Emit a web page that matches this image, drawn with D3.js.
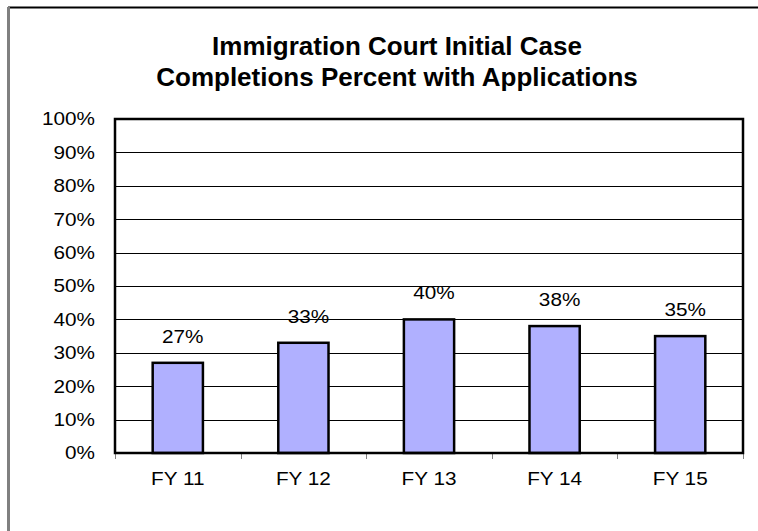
<!DOCTYPE html>
<html><head><meta charset="utf-8">
<script src="https://cdn.jsdelivr.net/npm/d3@7/dist/d3.min.js"></script>
<style>body{margin:0;background:#fff}svg{display:block}</style>
</head><body>
<script>
const categories = ["FY 11","FY 12","FY 13","FY 14","FY 15"];
const values = [0.27, 0.33, 0.40, 0.38, 0.35];
const yTicks = [0,0.1,0.2,0.3,0.4,0.5,0.6,0.7,0.8,0.9,1.0];
const titleLines = ["Immigration Court Initial Case","Completions Percent with Applications"];

const W=758,H=531;
const m={left:115,right:15,top:119,bottom:78};
const svg=d3.select("body").append("svg").attr("width",W).attr("height",H);
const font="Liberation Sans, Arial, sans-serif";
const stretch=1.12;
function widen(sel){
  sel.each(function(){
    const len=this.getComputedTextLength();
    d3.select(this).attr("textLength",len*stretch).attr("lengthAdjust","spacingAndGlyphs");
  });
}

// outer chart frame
svg.append("line").attr("x1",8).attr("x2",W).attr("y1",7.5).attr("y2",7.5).attr("stroke","#000").attr("stroke-width",2);
svg.append("line").attr("x1",8.5).attr("x2",8.5).attr("y1",7).attr("y2",H).attr("stroke","#808080").attr("stroke-width",3);

const x=d3.scaleBand().domain(categories).range([m.left,W-m.right]).paddingInner(0.6).paddingOuter(0.3);
const xb=d3.scaleBand().domain(categories).range([m.left,W-m.right]);
const y=d3.scaleLinear().domain([0,1]).range([H-m.bottom,m.top]);

// title
svg.append("g").selectAll("text").data(titleLines).join("text")
  .attr("x",397).attr("y",(d,i)=>55+i*31).attr("text-anchor","middle")
  .attr("font-family",font).attr("font-weight","bold").attr("font-size",26)
  .text(d=>d);

// gridlines
svg.append("g").selectAll("line").data(yTicks.slice(1,-1)).join("line")
  .attr("x1",m.left).attr("x2",W-m.right).attr("y1",d=>Math.round(y(d))+0.5).attr("y2",d=>Math.round(y(d))+0.5)
  .attr("stroke","#000").attr("stroke-width",1);

// y axis labels
const yAxis=d3.axisLeft(y).tickValues(yTicks).tickFormat(d3.format(".0%")).tickSize(0).tickPadding(20);
const gy=svg.append("g").attr("transform",`translate(${m.left},0)`).call(yAxis);
gy.select(".domain").remove();
gy.selectAll("text").attr("font-family",font).attr("font-size",18.5).attr("fill","#000").call(widen);

// x axis
const xAxis=d3.axisBottom(xb).tickSize(0).tickPadding(0);
const gx=svg.append("g").attr("transform",`translate(0,${H-m.bottom})`).call(xAxis);
gx.select(".domain").remove();
gx.selectAll("text").attr("dy",null).attr("y",32).attr("font-family",font).attr("font-size",18.5).attr("fill","#000").call(widen);
// category boundary ticks
svg.append("g").selectAll("line").data(categories.concat([null])).join("line")
  .attr("x1",(d,i)=>Math.round(m.left+i*xb.bandwidth())+0.5).attr("x2",(d,i)=>Math.round(m.left+i*xb.bandwidth())+0.5)
  .attr("y1",H-m.bottom).attr("y2",H-m.bottom+6).attr("stroke","#808080").attr("stroke-width",1);

// bars
svg.append("g").selectAll("rect").data(values).join("rect")
  .attr("x",(d,i)=>x(categories[i])).attr("width",x.bandwidth())
  .attr("y",d=>y(d)).attr("height",d=>y(0)-y(d))
  .attr("fill","#b0b0ff").attr("stroke","#000").attr("stroke-width",2.5);

// value labels
svg.append("g").selectAll("text").data(values).join("text")
  .attr("x",(d,i)=>x(categories[i])+x.bandwidth()/2+5).attr("y",d=>y(d)-20)
  .attr("text-anchor","middle").attr("font-family",font).attr("font-size",18.5)
  .text(d=>d3.format(".0%")(d)).call(widen);

// plot frame
svg.append("rect").attr("x",m.left).attr("y",m.top).attr("width",W-m.right-m.left).attr("height",H-m.bottom-m.top)
  .attr("fill","none").attr("stroke","#000").attr("stroke-width",2.5);
</script>
</body></html>
